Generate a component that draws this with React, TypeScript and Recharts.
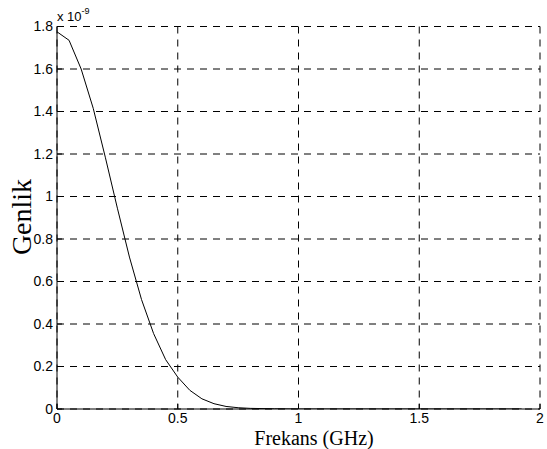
import React from 'react';
import { LineChart, Line, XAxis, YAxis, CartesianGrid } from 'recharts';

// frequency in GHz
const freqs = [0, 0.05, 0.1, 0.15, 0.2, 0.25, 0.3, 0.35, 0.4, 0.45, 0.5, 0.55, 0.6, 0.65, 0.7, 0.75, 0.8, 0.9, 1.0, 1.5, 1.924];
// amplitude (x 1e-9)
const amplitude = [1.775, 1.735, 1.6, 1.415, 1.185, 0.945, 0.715, 0.515, 0.355, 0.232, 0.15, 0.088, 0.048, 0.025, 0.012, 0.006, 0.003, 0.001, 0, 0, 0];

const xTicks = [0, 0.5, 1, 1.5, 2];
const yTicks = [0, 0.2, 0.4, 0.6, 0.8, 1, 1.2, 1.4, 1.6, 1.8];

const data = freqs.map((f, i) => ({ f, a: amplitude[i] }));

const sans = "'Liberation Sans', Arial, sans-serif";
const serif = "'Liberation Serif', 'Times New Roman', serif";
const tickStyle = { fill: '#000', fontSize: 14, fontFamily: sans };

const App: React.FC = () => {
  return (
    <div style={{ position: 'absolute', left: 0, top: 0, width: 547, height: 449, background: '#fff' }}>
      <LineChart width={547} height={449} data={data} margin={{ top: 26.5, right: 7, bottom: 10, left: 0 }}>
        <CartesianGrid stroke="#000" strokeDasharray="7 6" strokeWidth={1} />
        <XAxis
          dataKey="f"
          type="number"
          domain={[0, 2]}
          ticks={xTicks}
          height={30}
          stroke="#000"
          tickSize={-5}
          tickMargin={9}
          tick={tickStyle}
          interval={0}
          allowDataOverflow
        />
        <XAxis
          xAxisId="top"
          orientation="top"
          type="number"
          domain={[0, 2]}
          ticks={xTicks}
          height={0}
          stroke="#000"
          tickSize={-5}
          tick={false}
        />
        <YAxis
          type="number"
          domain={[0, 1.8]}
          ticks={yTicks}
          width={57}
          stroke="#000"
          tickSize={-5}
          tickMargin={9}
          tick={tickStyle}
          interval={0}
          allowDataOverflow
        />
        <YAxis
          yAxisId="right"
          orientation="right"
          type="number"
          domain={[0, 1.8]}
          ticks={yTicks}
          width={0}
          stroke="#000"
          tickSize={-5}
          tick={false}
        />
        <Line type="linear" dataKey="a" stroke="#000" strokeWidth={1} dot={false} isAnimationActive={false} />
      </LineChart>
      <svg width={547} height={449} style={{ position: 'absolute', left: 0, top: 0, pointerEvents: 'none' }}>
        <text x={57} y={21} fontSize={13} fontFamily={sans} fill="#000">
          x 10
          <tspan dy={-7} fontSize={9}>-9</tspan>
        </text>
        <text x={314} y={445} fontSize={20} fontFamily={serif} textAnchor="middle" fill="#000">
          Frekans (GHz)
        </text>
        <text
          x={0}
          y={0}
          fontSize={28}
          fontFamily={serif}
          textAnchor="middle"
          fill="#000"
          transform="translate(31 217) rotate(-90)"
        >
          Genlik
        </text>
      </svg>
    </div>
  );
};

export default App;
